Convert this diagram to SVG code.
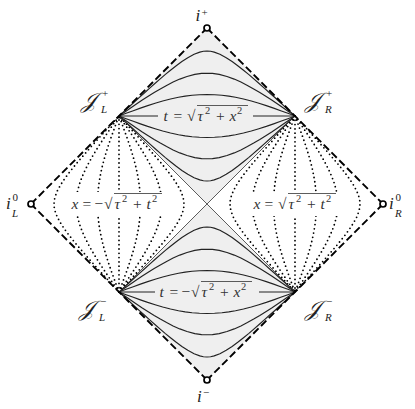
<svg xmlns="http://www.w3.org/2000/svg" width="415" height="409" viewBox="0 0 415 409">
<style>
.solid{fill:none;stroke:#222;stroke-width:1.15;stroke-linejoin:round}
.dot{fill:none;stroke:#000;stroke-width:1.8;stroke-dasharray:0 4.3;stroke-linecap:round}
.bound{fill:none;stroke:#000;stroke-width:1.9;stroke-dasharray:7.5 3.5}
.cone{fill:none;stroke:#333;stroke-width:0.8}
.shade{fill:#efefef;stroke:none}
.pt{fill:#fff;stroke:#000;stroke-width:1.7}
.mi{font-family:"Liberation Serif","DejaVu Serif",serif;font-style:italic;font-size:17px;fill:#222}
.sup{font-family:"Liberation Serif","DejaVu Serif",serif;font-size:11px;fill:#222}
.supi{font-family:"Liberation Serif","DejaVu Serif",serif;font-style:italic;font-size:11px;fill:#222}
.scr{font-family:"DejaVu Serif","DejaVu Sans",serif;font-style:italic;font-size:22px;fill:#222}
.lbl{font-family:"Liberation Serif","DejaVu Serif",serif;font-size:15.5px;fill:#333}
</style>
<defs>
<path id="cA" d="M119,116 L120,115.1 122.1,113.2 125.1,110.4 129.2,106.7 134.3,102 139.4,97.3 144.6,92.7 149.7,88.1 154.9,83.5 160.2,78.9 165.4,74.4 170.8,70 176.25,65.7 181.9,61.5 187.8,57.65 194.1,54.2 199.8,52.1 203.4,51.27 207,51 210.6,51.27 214.2,52.1 219.9,54.2 226.2,57.65 232.1,61.5 237.75,65.7 243.2,70 248.6,74.4 253.8,78.9 259.1,83.5 264.3,88.1 269.4,92.7 274.6,97.3 279.7,102 284.8,106.7 288.9,110.4 291.9,113.2 294,115.1 295,116"/>
<path id="cB" d="M119,116 L121.3,114.4 124.8,112 130.6,108 136.4,104.1 142.3,100.1 148.2,96.3 154.2,92.5 160.3,88.9 166.6,85.4 173.1,82.1 179.8,79.1 187,76.45 194.8,74.4 201.6,73.4 207,73.2 212.4,73.4 219.2,74.4 227,76.45 234.2,79.1 240.9,82.1 247.4,85.4 253.7,88.9 259.8,92.5 265.8,96.3 271.7,100.1 277.6,104.1 283.4,108 289.2,112 292.7,114.4 295,116"/>
<path id="cC" d="M119,116 L126.1,113.3 133.3,110.7 140.4,108.1 147.7,105.6 155.1,103.25 162.7,101 170.5,99 178.5,97.3 185.2,96.15 192.1,95.3 199.4,94.7 207,94.5 214.6,94.7 221.9,95.3 228.8,96.15 235.5,97.3 243.5,99 251.3,101 258.9,103.25 266.3,105.6 273.6,108.1 280.7,110.7 287.9,113.3 295,116"/>
<g id="fam">
<use href="#cA"/><use href="#cB"/><use href="#cC"/>
<path d="M119,116 H295"/>
<g transform="matrix(1 0 0 -1 0 232)"><use href="#cA"/><use href="#cB"/><use href="#cC"/></g>
</g>
</defs>

<g id="regions">
<polygon class="shade" points="207,28 295,116 207,204 119,116"/>
<polygon class="shade" points="207,204 295,292 207,380 119,292"/>
</g>

<g id="connectors">
<g id="future-hyperbolae" class="solid"><use href="#fam"/></g>
<g id="past-hyperbolae" class="solid"><use href="#fam" transform="matrix(1 0 0 -1 0 408)"/></g>
<g id="right-hyperbolae" class="dot"><use href="#fam" transform="rotate(90 207 204)"/></g>
<g id="left-hyperbolae" class="dot"><use href="#fam" transform="rotate(-90 207 204)"/></g>
<g id="light-cone" class="cone">
<path d="M119,116 L295,292"/>
<path d="M295,116 L119,292"/>
</g>
<g id="boundary" class="bound">
<path d="M207,28 L383,204"/>
<path d="M383,204 L207,380"/>
<path d="M207,380 L31,204"/>
<path d="M31,204 L207,28"/>
</g>
</g>

<g id="label-future">
<rect x="158" y="105" width="95" height="21" fill="#efefef"/>
<text class="lbl" y="120.5"><tspan x="163.5" font-style="italic">t</tspan><tspan x="173.5">=</tspan><tspan x="187">√</tspan><tspan x="197.5" font-style="italic">τ</tspan><tspan x="205" y="114" font-size="10.5">2</tspan><tspan x="216" y="120.5">+</tspan><tspan x="229.5" font-style="italic">x</tspan><tspan x="237" y="114" font-size="10.5">2</tspan></text>
<line x1="197" y1="105.5" x2="248" y2="105.5" stroke="#333" stroke-width="0.8"/>
</g>
<g id="label-past">
<rect x="155" y="281" width="104" height="22" fill="#efefef"/>
<text class="lbl" y="296.5"><tspan x="159.5" font-style="italic">t</tspan><tspan x="169.5">=</tspan><tspan x="181.5">−</tspan><tspan x="191">√</tspan><tspan x="201.5" font-style="italic">τ</tspan><tspan x="209" y="290" font-size="10.5">2</tspan><tspan x="220" y="296.5">+</tspan><tspan x="233.5" font-style="italic">x</tspan><tspan x="241" y="290" font-size="10.5">2</tspan></text>
<line x1="201" y1="281.5" x2="252" y2="281.5" stroke="#333" stroke-width="0.8"/>
</g>
<g id="label-right">
<rect x="251" y="192" width="89" height="24" fill="#fff"/>
<text class="lbl" y="208.5"><tspan x="253.5" font-style="italic">x</tspan><tspan x="264.5">=</tspan><tspan x="278">√</tspan><tspan x="288.5" font-style="italic">τ</tspan><tspan x="296" y="202" font-size="10.5">2</tspan><tspan x="307" y="208.5">+</tspan><tspan x="320.5" font-style="italic">t</tspan><tspan x="326" y="202" font-size="10.5">2</tspan></text>
<line x1="288" y1="193.5" x2="336" y2="193.5" stroke="#333" stroke-width="0.8"/>
</g>
<g id="label-left">
<rect x="69" y="192" width="99" height="24" fill="#fff"/>
<text class="lbl" y="208.5"><tspan x="71.5" font-style="italic">x</tspan><tspan x="82.5">=</tspan><tspan x="94.5">−</tspan><tspan x="104">√</tspan><tspan x="114.5" font-style="italic">τ</tspan><tspan x="122" y="202" font-size="10.5">2</tspan><tspan x="133" y="208.5">+</tspan><tspan x="146.5" font-style="italic">t</tspan><tspan x="152" y="202" font-size="10.5">2</tspan></text>
<line x1="114" y1="193.5" x2="162" y2="193.5" stroke="#333" stroke-width="0.8"/>
</g>

<g id="i-plus"><circle class="pt" cx="207" cy="28" r="3"/><text class="mi" x="195.5" y="21">i</text><text class="sup" x="201.5" y="15.5">+</text></g>
<g id="i-minus"><circle class="pt" cx="207" cy="380" r="3"/><text class="mi" x="197" y="402">i</text><text class="sup" x="203" y="395.5">−</text></g>
<g id="i0-left"><circle class="pt" cx="31" cy="204" r="3"/><text class="mi" x="6" y="209">i</text><text class="sup" x="12.5" y="201">0</text><text class="supi" x="12" y="216.5">L</text></g>
<g id="i0-right"><circle class="pt" cx="383" cy="204" r="3"/><text class="mi" x="389" y="209">i</text><text class="sup" x="395.5" y="201">0</text><text class="supi" x="395" y="216.5">R</text></g>
<g id="scri-plus-left"><text class="scr" x="81" y="108">𝒥</text><text class="sup" x="102" y="96.5">+</text><text class="supi" x="101" y="112.5">L</text></g>
<g id="scri-plus-right"><text class="scr" x="305" y="108">𝒥</text><text class="sup" x="326" y="96.5">+</text><text class="supi" x="325" y="112.5">R</text></g>
<g id="scri-minus-left"><text class="scr" x="79" y="316">𝒥</text><text class="sup" x="100" y="304.5">−</text><text class="supi" x="99" y="320.5">L</text></g>
<g id="scri-minus-right"><text class="scr" x="305" y="316">𝒥</text><text class="sup" x="326" y="304.5">−</text><text class="supi" x="325" y="320.5">R</text></g>
</svg>
